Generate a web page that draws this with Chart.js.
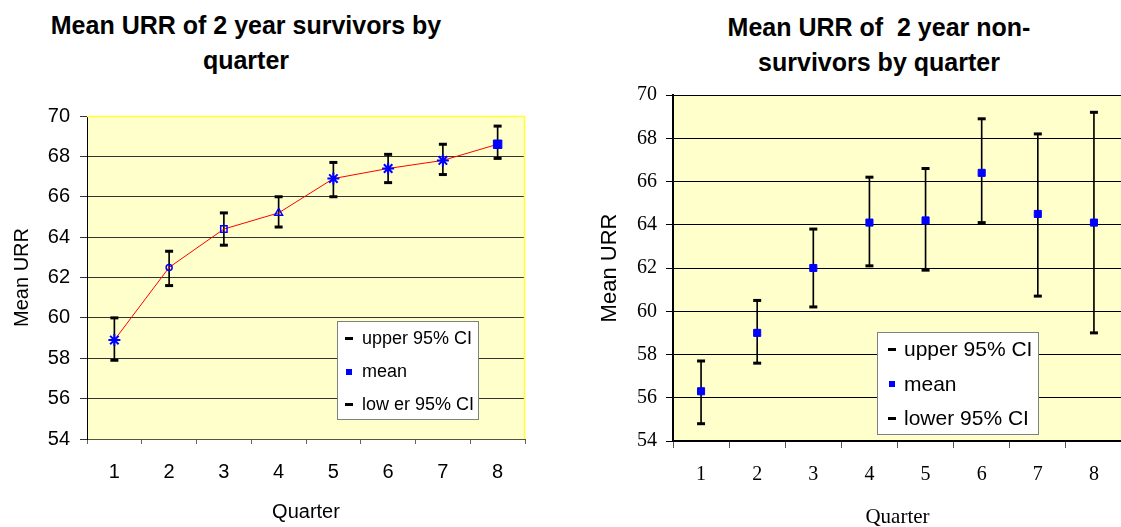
<!DOCTYPE html>
<html>
<head>
<meta charset="utf-8">
<script src="https://cdn.jsdelivr.net/npm/chart.js@4.4.0/dist/chart.umd.min.js"></script>
<style>
body { margin: 0; width: 1121px; height: 527px; background: #fff; position: relative; overflow: hidden; }
canvas { position: absolute; top: 0; }
.title { position: absolute; width: 500px; text-align: center; white-space: nowrap;
  font: bold 25px "Liberation Sans", Arial, sans-serif; color: #000; }
.legend { position: absolute; background: #fff; border: 1px solid #808080; box-sizing: border-box;
  font-family: "Liberation Sans", Arial, sans-serif; color: #000; }
.legend .mk { position: absolute; }
.legend .tx { position: absolute; white-space: nowrap; }
</style>
</head>
<body>
<div class="title" style="left:-4px; top:8px; line-height:35px;">Mean URR of 2 year survivors by<br>quarter</div>
<div class="title" style="left:629px; top:10px; line-height:35px;">Mean URR of&nbsp; 2 year non-<br>survivors by quarter</div>
<canvas id="chart-1" width="560" height="527" style="left:0px"></canvas>
<canvas id="chart-2" width="590" height="527" style="left:560px"></canvas>
<div id="legend-1" class="legend" style="left:337px; top:321px; width:142px; height:99px; font-size:18px;"></div>
<div id="legend-2" class="legend" style="left:877px; top:332px; width:162px; height:103px; font-size:21px;"></div>
<script>
var quarters = ["1", "2", "3", "4", "5", "6", "7", "8"];

// 2 year survivors
var surv_mean = [58.9, 62.5, 64.4, 65.2, 66.9, 67.4, 67.8, 68.6];
var surv_upper = [60.0, 63.3, 65.2, 66.0, 67.7, 68.1, 68.6, 69.5];
var surv_lower = [57.9, 61.6, 63.6, 64.5, 66.0, 66.7, 67.1, 67.9];

// 2 year non-survivors
var non_mean = [56.3, 59.0, 62.0, 64.1, 64.2, 66.4, 64.5, 64.1];
var non_upper = [57.7, 60.5, 63.8, 66.2, 66.6, 68.9, 68.2, 69.2];
var non_lower = [54.8, 57.6, 60.2, 62.1, 61.9, 64.1, 60.7, 59.0];

var y_min = 54, y_max = 70, y_step = 2;
var legend_left = ["upper 95% CI", "mean", "low er 95% CI"];
var legend_right = ["upper 95% CI", "mean", "lower 95% CI"];

Chart.defaults.color = "#000";

var plotBg = {
    id: "plotBg",
    beforeDraw: function(chart, args, opts) {
        var a = chart.chartArea, ctx = chart.ctx;
        ctx.save();
        ctx.fillStyle = "#FFFFCC";
        ctx.fillRect(a.left, a.top, a.right - a.left, a.bottom - a.top);
        ctx.restore();
    },
    beforeDatasetsDraw: function(chart, args, opts) {
        if (!opts.edge) return;
        var a = chart.chartArea, ctx = chart.ctx;
        ctx.save();
        ctx.strokeStyle = opts.edge;
        ctx.lineWidth = 1.5;
        ctx.beginPath();
        ctx.moveTo(a.left, a.top + 0.5);
        ctx.lineTo(a.right - 0.5, a.top + 0.5);
        ctx.lineTo(a.right - 0.5, a.bottom);
        ctx.stroke();
        ctx.restore();
    }
};

function errorBars(lower, upper) {
    return lower.map(function(v, i) { return [v, upper[i]]; });
}

function makeChart(id, cfg) {
    var ctx = document.getElementById(id).getContext("2d");
    var datasets = [{
        type: "bar",
        label: "ci",
        data: errorBars(cfg.lower, cfg.upper),
        backgroundColor: "#000",
        borderWidth: 0,
        barThickness: 1,
        order: 3,
    }, {
        type: "line",
        label: cfg.legend[0],
        data: cfg.upper,
        showLine: false,
        pointStyle: "line",
        pointRadius: 4,
        pointBorderWidth: 3,
        pointBorderColor: "#000",
        order: 2,
    }, {
        type: "line",
        label: cfg.legend[1],
        data: cfg.mean,
        showLine: cfg.showLine,
        borderColor: "#FF0000",
        borderWidth: 1,
        pointStyle: cfg.pointStyle,
        pointRadius: cfg.pointRadius,
        pointBorderWidth: cfg.pointBorderWidth,
        pointBorderColor: "#0000FF",
        pointBackgroundColor: cfg.pointFill,
        order: 0,
    }, {
        type: "line",
        label: cfg.legend[2],
        data: cfg.lower,
        showLine: false,
        pointStyle: "line",
        pointRadius: 4,
        pointBorderWidth: 3,
        pointBorderColor: "#000",
        order: 1,
    }];
    return new Chart(ctx, {
        type: "bar",
        data: { labels: quarters, datasets: datasets },
        plugins: [plotBg],
        options: {
            responsive: false,
            animation: false,
            events: [],
            layout: { padding: cfg.padding },
            plugins: {
                legend: { display: false },
                tooltip: { enabled: false },
                plotBg: { edge: cfg.edge },
            },
            scales: {
                x: {
                    offset: true,
                    grid: { offset: true, drawOnChartArea: false, tickLength: cfg.xTickLen, tickColor: cfg.xTickColor },
                    border: { color: cfg.xBorder, width: cfg.borderWidth },
                    ticks: { font: cfg.tickFont, padding: cfg.xTickPad, color: "#000" },
                    title: { display: true, text: "Quarter", font: cfg.xTitleFont, padding: { top: 0, bottom: cfg.xTitlePad } },
                    afterFit: function(scale) { scale.height = cfg.xHeight; },
                },
                y: {
                    min: y_min,
                    max: y_max,
                    ticks: { stepSize: y_step, font: cfg.tickFont, padding: cfg.yTickPad, color: "#000" },
                    grid: {
                        color: function(c) { return (cfg.edge && c.tick && c.tick.value === y_max) ? "rgba(0,0,0,0)" : cfg.gridColor; },
                        tickColor: cfg.gridColor,
                        tickLength: 7,
                    },
                    border: { color: "#000", width: cfg.borderWidth },
                    title: { display: true, text: "Mean URR", font: cfg.yTitleFont, padding: { top: cfg.yTitlePad, bottom: 0 } },
                    afterFit: function(scale) { scale.width = cfg.yWidth; },
                },
            },
        },
    });
}

function makeLegend(chart, el, rowH, rowTop, mkX, txX) {
    var items = chart.data.datasets.filter(function(d) { return d.type === "line"; });
    var html = "";
    items.forEach(function(d, i) {
        var mid = rowTop + rowH * i + rowH / 2;
        var mk = d.pointStyle === "line"
            ? '<span class="mk" style="left:' + mkX + 'px;top:' + (mid - 1.5) + 'px;width:8px;height:3px;background:#000"></span>'
            : '<span class="mk" style="left:' + (mkX + 1) + 'px;top:' + (mid - 3) + 'px;width:6px;height:6px;background:#0000FF"></span>';
        html += mk + '<span class="tx" style="left:' + txX + 'px;top:' + (mid - rowH / 2) + 'px;line-height:' + rowH + 'px">' + d.label + '</span>';
    });
    el.innerHTML = html;
}

var chart1 = makeChart("chart-1", {
    mean: surv_mean, upper: surv_upper, lower: surv_lower, legend: legend_left,
    showLine: true,
    pointStyle: ["star", "circle", "rect", "triangle", "star", "star", "star", "rect"],
    pointRadius: [6, 3, 4.5, 4.5, 6, 6, 6, 6],
    pointBorderWidth: [2, 1.5, 1.5, 1.5, 2, 2, 2, 1],
    pointFill: ["#0000FF", "rgba(0,0,0,0)", "rgba(0,0,0,0)", "rgba(0,0,0,0)", "#0000FF", "#0000FF", "#0000FF", "#0000FF"],
    padding: { top: 116, right: 35, left: 0, bottom: 0 },
    edge: "#FFFF33",
    gridColor: "#333",
    borderWidth: 1,
    xBorder: "#55553a",
    xTickColor: "#666",
    xTickLen: 5,
    xTickPad: 16,
    xHeight: 88,
    yWidth: 87,
    yTickPad: 10,
    tickFont: { family: "'Liberation Sans', Arial, sans-serif", size: 20 },
    xTitleFont: { family: "'Liberation Sans', Arial, sans-serif", size: 20 },
    xTitlePad: 3,
    yTitleFont: { family: "'Liberation Sans', Arial, sans-serif", size: 20 },
    yTitlePad: 10,
});

var chart2 = makeChart("chart-2", {
    mean: non_mean, upper: non_upper, lower: non_lower, legend: legend_right,
    showLine: false,
    pointStyle: "rect",
    pointRadius: 5,
    pointBorderWidth: 1,
    pointFill: "#0000FF",
    padding: { top: 95, right: 28, left: 0, bottom: 0 },
    edge: null,
    gridColor: "#000",
    borderWidth: 2,
    xBorder: "#000",
    xTickColor: "#555",
    xTickLen: 7,
    xTickPad: 15,
    xHeight: 86,
    yWidth: 113,
    yTickPad: 9,
    tickFont: { family: "'Liberation Serif', 'Times New Roman', serif", size: 20 },
    xTitleFont: { family: "'Liberation Serif', 'Times New Roman', serif", size: 21 },
    xTitlePad: -3,
    yTitleFont: { family: "'Liberation Sans', Arial, sans-serif", size: 22 },
    yTitlePad: 37,
});

makeLegend(chart1, document.getElementById("legend-1"), 33, 0, 7, 24);
makeLegend(chart2, document.getElementById("legend-2"), 34.5, -1, 10, 26);
</script>
</body>
</html>
